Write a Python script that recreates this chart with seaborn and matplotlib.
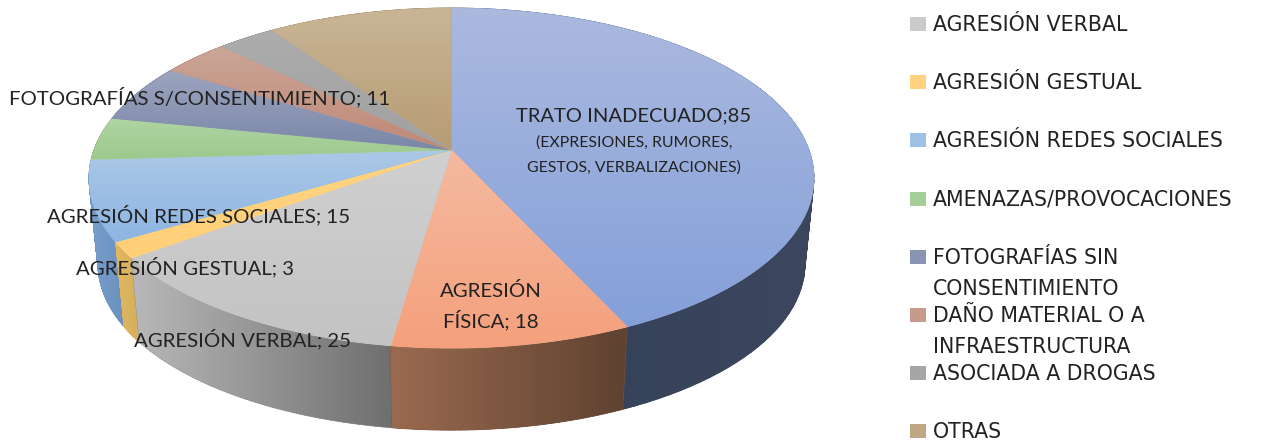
import matplotlib
matplotlib.use("Agg")
import matplotlib.pyplot as plt
import numpy as np
import seaborn as sns
from matplotlib.patches import PathPatch, Rectangle
from matplotlib.path import Path

# values clockwise from 12 o'clock
categories = [
    "TRATO INADECUADO", "AGRESIÓN FÍSICA", "AGRESIÓN VERBAL", "AGRESIÓN GESTUAL",
    "AGRESIÓN REDES SOCIALES", "AMENAZAS/PROVOCACIONES", "FOTOGRAFÍAS SIN CONSENTIMIENTO",
    "DAÑO MATERIAL O A INFRAESTRUCTURA", "ASOCIADA A DROGAS", "OTRAS",
]
values = [85, 18, 25, 3, 15, 8, 11, 7, 6, 19]

face_top = ["#abb9df", "#f5baa0", "#d0d0d0", "#ffd480", "#abc8e6", "#b0d5a3",
            "#9ca4bf", "#cba697", "#adadad", "#c9b596"]
face_bottom = ["#84a0d9", "#f4a07c", "#c3c3c3", "#ffcf78", "#8db5e3", "#9dc98d",
               "#7b87a8", "#bf8877", "#a0a0a0", "#b59c74"]
wall_left = ["#333d57", "#9a6a50", "#b8b8b8", "#e0b860", "#7a9fcc", "#7a9a6c",
             "#5c6680", "#8f6659", "#7a7a7a", "#88745a"]
wall_right = ["#3c475f", "#5f4231", "#6f6f6f", "#d4ae5c", "#6a90bf", "#6a8a5c",
              "#4c566e", "#7f5649", "#6a6a6a", "#78644a"]

legend_labels = ["AGRESIÓN VERBAL", "AGRESIÓN GESTUAL", "AGRESIÓN REDES SOCIALES",
                 "AMENAZAS/PROVOCACIONES", "FOTOGRAFÍAS SIN\nCONSENTIMIENTO",
                 "DAÑO MATERIAL O A\nINFRAESTRUCTURA", "ASOCIADA A DROGAS", "OTRAS"]
legend_colors = ["#cacaca", "#ffd27f", "#9fc1e6", "#a5cf98", "#8a94b2", "#c79b8c", "#a6a6a6", "#bfa783"]

# perspective of the disc, in pixels
CX, CY = 451.5, 150
A, B, K = 357.5, 165.4, 0.165
DEPTH, SHRINK = 87, 0.975
TEXT = "#222222"

sns.set_theme(style="white")
plt.rcParams["font.family"] = ["Lato", "DejaVu Sans"]


def project(theta, bottom=False):
    x, y = np.cos(theta), np.sin(theta)
    w = 1 + K * y
    px, py = A * x / w, B * y / w
    if bottom:
        return CX + SHRINK * px, CY + DEPTH - SHRINK * py
    return CX + px, CY - py


def closed_path(verts):
    return Path(np.vstack([verts, verts[:1]]), closed=True)


def wall_path(top, low):
    # union of small quads, so the silhouette between the two rims is filled
    quads = []
    for k in range(len(top) - 1):
        quad = np.array([top[k], top[k + 1], low[k + 1], low[k]])
        x, y = quad[:, 0], quad[:, 1]
        if np.dot(x, np.roll(y, -1)) - np.dot(y, np.roll(x, -1)) < 0:
            quad = quad[::-1]
        quads.append(closed_path(quad))
    return Path.make_compound_path(*quads)


def paint(ax, path, c1, c2, horizontal, z):
    # solid fill under the image so no seams show between slices
    mid = sns.blend_palette([c1, c2], 3)[1]
    patch = PathPatch(path, fc=mid, ec=mid, lw=0.6, zorder=z)
    ax.add_patch(patch)
    ramp = np.linspace(0, 1, 128)
    ramp = ramp[None, :] if horizontal else ramp[:, None]
    xs, ys = path.vertices[:, 0], path.vertices[:, 1]
    im = ax.imshow(ramp, cmap=sns.blend_palette([c1, c2], as_cmap=True), vmin=0, vmax=1,
                   extent=(xs.min(), xs.max(), ys.max(), ys.min()), origin="upper",
                   aspect="auto", interpolation="bilinear", zorder=z + 0.5)
    im.set_clip_path(patch)


fig = plt.figure(figsize=(12.66, 4.45), dpi=100)
ax = fig.add_axes([0, 0, 1, 1])

wedges, _ = ax.pie(values, startangle=90, counterclock=False)
slices = [(np.radians(w.theta1), np.radians(w.theta2)) for w in wedges]
for w in wedges:
    w.remove()

ax.set_aspect("auto")
ax.axis("off")

# side walls, back to front
def distance_to_front(i):
    mid = (slices[i][0] + slices[i][1]) / 2
    return abs((mid + np.pi / 2 + np.pi) % (2 * np.pi) - np.pi)


z = 1
for i in sorted(range(len(values)), key=distance_to_front, reverse=True):
    t = np.linspace(slices[i][0], slices[i][1], 80)
    top = np.column_stack(project(t))
    low = np.column_stack(project(t, bottom=True))
    paint(ax, wall_path(top, low), wall_left[i], wall_right[i], True, z)
    z += 1

# top face
for i in range(len(values)):
    t = np.linspace(slices[i][0], slices[i][1], 80)
    rim = np.column_stack(project(t))
    paint(ax, closed_path(np.vstack([[CX, CY], rim])), face_top[i], face_bottom[i], False, z)
    z += 1

label_size = 14.7
labels = [
    ("TRATO INADECUADO;85", 634, 116, 14.5),
    ("(EXPRESIONES, RUMORES,", 634, 143, 11.4),
    ("GESTOS, VERBALIZACIONES)", 634, 168, 11.4),
    ("AGRESIÓN", 491, 291, label_size),
    ("FÍSICA; 18", 491, 320, label_size),
    ("AGRESIÓN VERBAL; 25", 242, 339, label_size),
    ("AGRESIÓN GESTUAL; 3", 185, 267, label_size),
    ("AGRESIÓN REDES SOCIALES; 15", 199, 215, label_size),
    ("FOTOGRAFÍAS S/CONSENTIMIENTO; 11", 200, 97, label_size),
]
for text, x, y, size in labels:
    ax.text(x, y, text, ha="center", va="center", fontsize=size, color=TEXT, zorder=100)

# legend
legend_y0, legend_step, line_step = 24, 58.2, 31
for i, (name, color) in enumerate(zip(legend_labels, legend_colors)):
    y = legend_y0 + i * legend_step
    ax.add_patch(Rectangle((910, y - 7), 16, 14, fc=color, ec="none", zorder=100))
    for j, line in enumerate(name.split("\n")):
        ax.text(933, y + 1 + j * line_step, line, ha="left", va="center", fontsize=14.8,
                family=["DejaVu Sans"], color=TEXT, zorder=100)

ax.set_xlim(0, 1266)
ax.set_ylim(445, 0)
fig.savefig("out.png", dpi=100, facecolor="white")
